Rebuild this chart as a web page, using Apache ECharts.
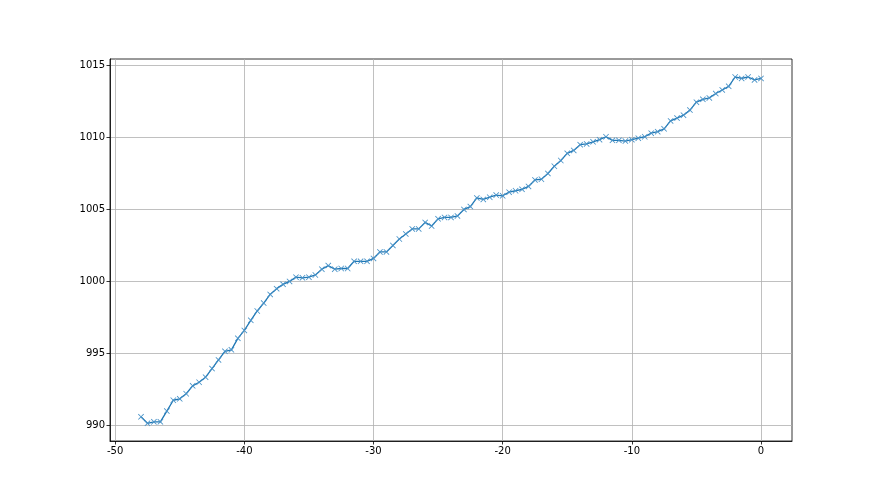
<!DOCTYPE html>
<html>
<head>
<meta charset="utf-8">
<script src="https://cdn.jsdelivr.net/npm/echarts@6/dist/echarts.min.js"></script>
<style>html,body{margin:0;padding:0;background:#fff;}#c{width:880px;height:495px;}</style>
</head>
<body>
<div id="c"></div>
<script>
const xValues = [];
for (let i = 0; i <= 96; i++) xValues.push(-48 + i * 0.5);
const yValues = [
  990.6, 990.15, 990.25, 990.25, 991.0, 991.75, 991.85, 992.2, 992.75, 993.0,
  993.35, 993.95, 994.55, 995.15, 995.25, 996.05, 996.6, 997.3, 997.95, 998.5,
  999.1, 999.5, 999.8, 1000.0, 1000.3, 1000.25, 1000.3, 1000.45, 1000.85, 1001.1,
  1000.85, 1000.9, 1000.9, 1001.4, 1001.4, 1001.4, 1001.6, 1002.05, 1002.05, 1002.5,
  1002.95, 1003.3, 1003.65, 1003.65, 1004.1, 1003.85, 1004.35, 1004.45, 1004.45, 1004.55,
  1005.0, 1005.2, 1005.8, 1005.7, 1005.85, 1006.0, 1005.95, 1006.2, 1006.3, 1006.4,
  1006.6, 1007.05, 1007.1, 1007.5, 1008.0, 1008.4, 1008.9, 1009.1, 1009.5, 1009.55,
  1009.7, 1009.85, 1010.05, 1009.8, 1009.8, 1009.75, 1009.85, 1009.95, 1010.05, 1010.3,
  1010.4, 1010.6, 1011.15, 1011.35, 1011.55, 1011.9, 1012.45, 1012.65, 1012.75, 1013.05,
  1013.3, 1013.55, 1014.2, 1014.1, 1014.2, 1014.0, 1014.1
];
const xTicks = [-50, -40, -30, -20, -10, 0];
const yTicks = [990, 995, 1000, 1005, 1010, 1015];

const data = xValues.map((x, i) => [x, yValues[i]]);
const chart = echarts.init(document.getElementById('c'), null, {renderer: 'canvas'});
const labelStyle = {color: '#000', fontSize: 10, fontFamily: 'DejaVu Sans', formatter: v => String(v)};
chart.setOption({
  animation: false,
  backgroundColor: '#fff',
  grid: {left: 110, right: 88, top: 59, bottom: 54, show: true, borderColor: '#000', borderWidth: 0.8, backgroundColor: 'transparent'},
  xAxis: {
    type: 'value', min: -50.4, max: 2.4,
    axisLine: {show: true, onZero: false, lineStyle: {color: '#000', width: 0.8}},
    axisTick: {show: true, customValues: xTicks, length: 3.5, lineStyle: {color: '#000', width: 0.8}},
    axisLabel: Object.assign({customValues: xTicks, margin: 5}, labelStyle),
    splitLine: {show: true, lineStyle: {color: '#b0b0b0', width: 0.8}}
  },
  yAxis: {
    type: 'value', min: 988.92, max: 1015.45,
    axisLine: {show: true, onZero: false, lineStyle: {color: '#000', width: 0.8}},
    axisTick: {show: true, customValues: yTicks, length: 3.5, lineStyle: {color: '#000', width: 0.8}},
    axisLabel: Object.assign({customValues: yTicks, margin: 5}, labelStyle),
    splitLine: {show: true, lineStyle: {color: '#b0b0b0', width: 0.8}}
  },
  series: [{
    type: 'line',
    data: data,
    lineStyle: {color: '#1f77b4', width: 1.3},
    itemStyle: {color: '#4a93c8'},
    symbol: 'path://M0,1 L1,0 L5,4 L9,0 L10,1 L6,5 L10,9 L9,10 L5,6 L1,10 L0,9 L4,5 Z',
    symbolSize: 6,
    showSymbol: true,
    emphasis: {disabled: true}
  }]
});
</script>
</body>
</html>
